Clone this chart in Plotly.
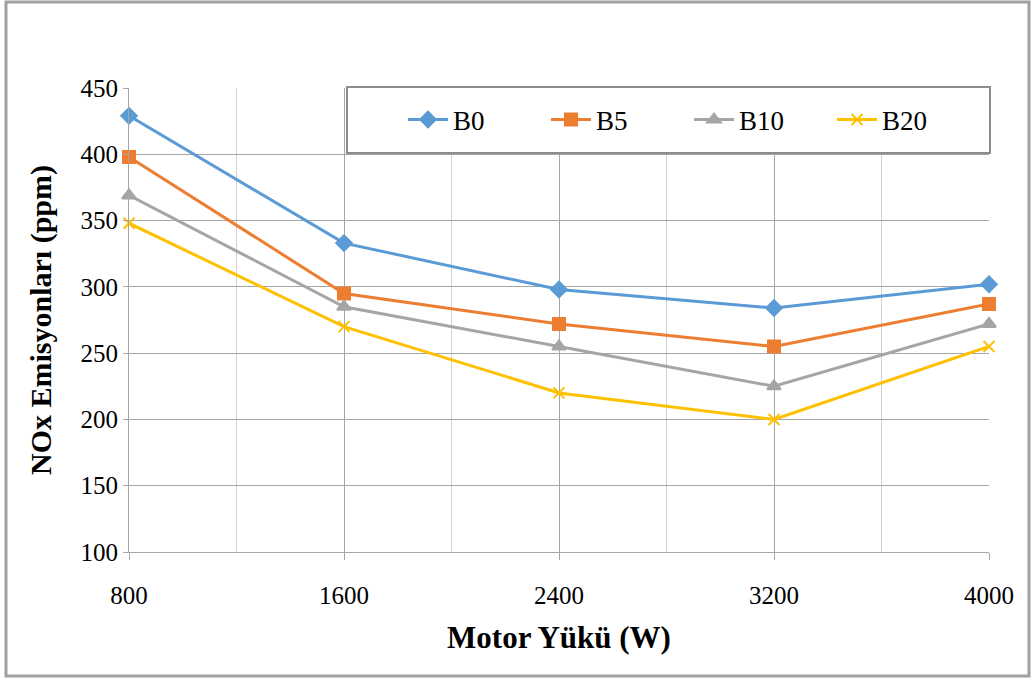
import plotly.graph_objects as go

# Engine load (W) and NOx emissions (ppm) for each fuel blend
loads = [800, 1600, 2400, 3200, 4000]
b0 = [429, 333, 298, 284, 302]
b5 = [398, 295, 272, 255, 287]
b10 = [369, 285, 255, 225, 272]
b20 = [348, 270, 220, 200, 255]

series = [
    ("B0", b0, "#5B9BD5", "diamond", 12),
    ("B5", b5, "#ED7D31", "square", 12),
    ("B10", b10, "#A5A5A5", "triangle-up", 12),
    ("B20", b20, "#FFC000", "x-thin-open", 11),
]

FONT = "Liberation Serif, Times New Roman, serif"
GRID = "#A6A6A6"

fig = go.Figure()
for name, vals, color, symbol, size in series:
    fig.add_trace(go.Scatter(
        x=loads, y=vals, name=name, mode="lines+markers",
        line=dict(color=color, width=3),
        marker=dict(symbol=symbol, size=size, color=color,
                    line=dict(color=color, width=2)),
        cliponaxis=False,
    ))

W, H = 1033, 679
L, R, T, B = 129, 44, 88, 127
pw, ph = W - L - R, H - T - B


def px(x):
    return (x - L) / pw


def py(y):
    return (H - B - y) / ph


fig.update_layout(
    width=W, height=H,
    margin=dict(l=L, r=R, t=T, b=B),
    paper_bgcolor="white", plot_bgcolor="white",
    font=dict(family=FONT, size=25, color="black"),
    showlegend=True,
    legend=dict(
        orientation="h", x=px(403), xanchor="left", y=py(120), yanchor="middle",
        bgcolor="rgba(0,0,0,0)", borderwidth=0,
        font=dict(family=FONT, size=27, color="black"),
        entrywidth=88, entrywidthmode="pixels", itemwidth=40,
    ),
    xaxis=dict(
        range=[800, 4000], tickvals=loads, ticktext=[str(v) for v in loads],
        showgrid=True, gridcolor=GRID, gridwidth=1,
        minor=dict(dtick=400, tick0=800, showgrid=True, gridcolor="#D0D0D0", gridwidth=1),
        showline=True, linecolor=GRID, linewidth=1,
        ticks="outside", ticklen=7, tickcolor=GRID,
        ticklabelstandoff=14,
        tickfont=dict(family=FONT, size=25),
        title=dict(text="<b>Motor Yükü (W)</b>", font=dict(family=FONT, size=31), standoff=18),
        zeroline=False,
    ),
    yaxis=dict(
        range=[100, 450], dtick=50,
        showgrid=True, gridcolor=GRID, gridwidth=1,
        showline=True, linecolor=GRID, linewidth=1,
        ticks="outside", ticklen=5, tickcolor=GRID,
        tickfont=dict(family=FONT, size=25),
        title=dict(text="<b>NOx Emisyonları (ppm)</b>", font=dict(family=FONT, size=30), standoff=20),
        zeroline=False,
    ),
    shapes=[
        # legend box
        dict(type="rect", xref="paper", yref="paper",
             x0=px(347), x1=px(990), y0=py(153), y1=py(87),
             line=dict(color="#8C8C8C", width=2), fillcolor="white", layer="above"),
        # outer chart frame
        dict(type="rect", xref="paper", yref="paper",
             x0=px(6), x1=px(1029), y0=py(676), y1=py(2),
             line=dict(color="#A0A0A0", width=3)),
    ],
)

fig.write_html("out.html")
